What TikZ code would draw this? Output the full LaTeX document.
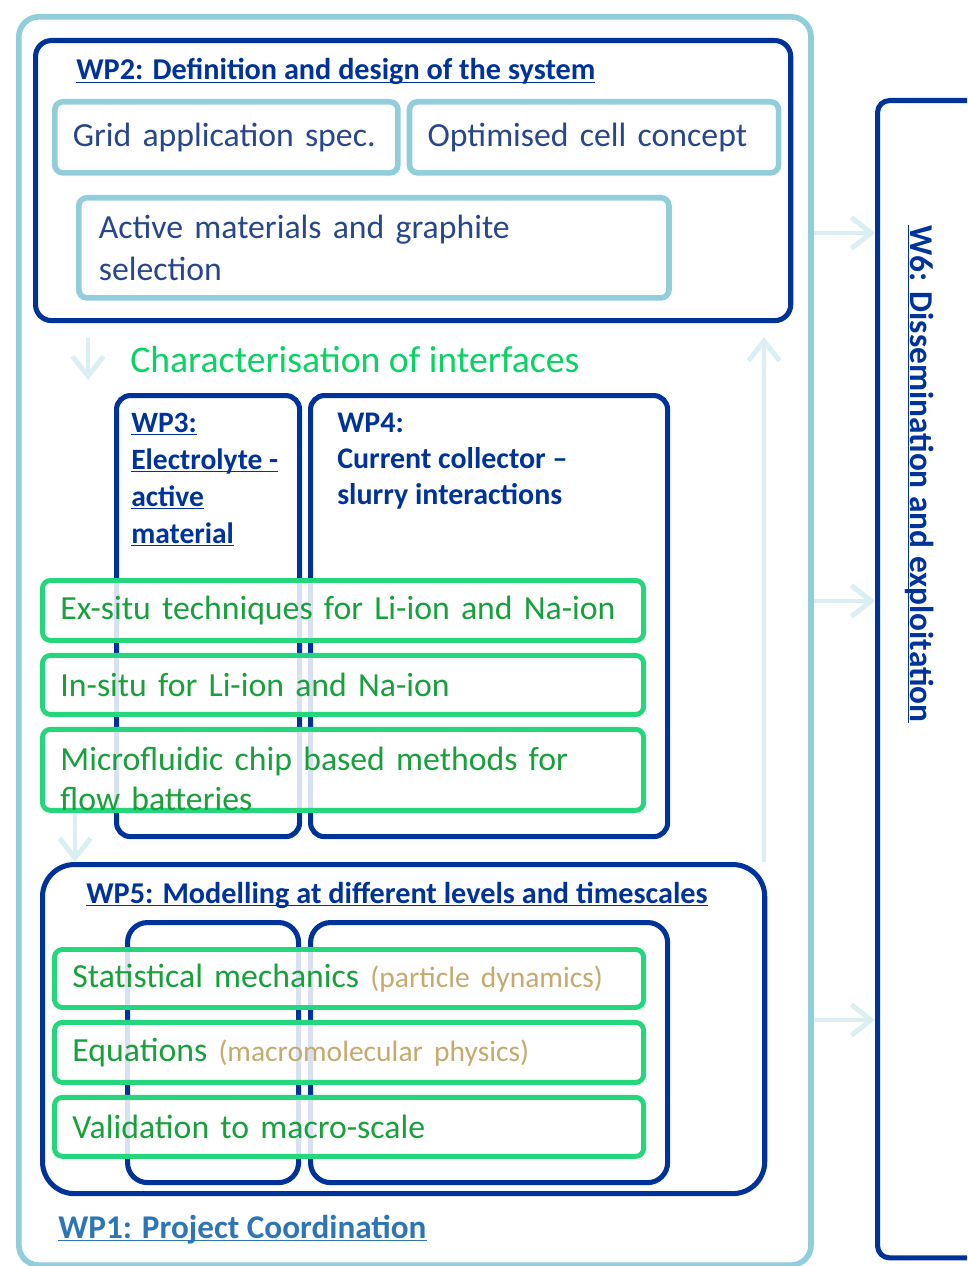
\documentclass[tikz,border=0pt]{standalone}
\usepackage{fontspec}
\setmainfont{Carlito}
\usetikzlibrary{arrows.meta}
\usetikzlibrary{positioning}

\definecolor{wpnavy}{RGB}{0,51,153}
\definecolor{wplight}{RGB}{146,205,220}
\definecolor{wpgreen}{RGB}{38,214,124}
\definecolor{txtgreen}{RGB}{25,160,60}
\definecolor{chargreen}{RGB}{10,210,100}
\definecolor{detail}{RGB}{196,170,110}
\definecolor{palearrow}{RGB}{218,238,243}
\definecolor{slate}{RGB}{40,70,140}
\definecolor{wpone}{RGB}{46,117,182}
\newcommand{\ulbox}[1]{\underline{\raisebox{0pt}[\height][0pt]{#1}}}

\begin{document}
\begin{tikzpicture}[x=0.025cm,y=-0.025cm,
  frame/.style={draw=wplight,line width=4pt,rounded corners=0.5cm,anchor=north west,inner sep=0pt},
  wpbox/.style={draw=wpnavy,line width=3.6pt,anchor=north west,inner sep=0pt},
  spec/.style={draw=wplight,line width=4pt,rounded corners=0.2cm,anchor=north west,align=left,inner xsep=0.45cm,font=\fontsize{24}{30}\selectfont,text=slate},
  method/.style={draw=wpgreen,line width=3.5pt,rounded corners=0.2cm,fill=white,fill opacity=0.85,text opacity=1,align=left,inner xsep=0.45cm,font=\fontsize{24}{28.5}\selectfont,text=txtgreen},
  title/.style={anchor=base west,inner sep=0pt,font=\bfseries\fontsize{21.5}{26}\selectfont,text=wpnavy},
  flow/.style={draw=palearrow,line width=3.5pt,-{Straight Barb[length=14pt,width=22pt]}}]
  \clip (0,0) rectangle (967,1266);

  % WP1 frame round everything
  \node[frame,minimum width=19.8cm,minimum height=31.2cm] (wp1) at (16,14) {};
  \node[title,text=wpone,font=\bfseries\fontsize{23.6}{28}\selectfont] (wp1title) at (58,1238) {\ulbox{WP1: Project Coordination}};

  % WP2
  \node[wpbox,rounded corners=0.4cm,minimum width=18.875cm,minimum height=7cm] (wp2) at (33,38) {};
  \node[title] (wp2title) at (76,80) {\ulbox{WP2: Definition and design of the system}};
  \node[spec,text width=7.675cm,minimum height=1.775cm] (grid) at (52,99) {Grid application spec.};
  \node[spec,text width=8.325cm,minimum height=1.775cm,right=0.15cm of grid] (cell) {Optimised cell concept};
  \node[spec,inner xsep=0.5cm,text width=13.75cm,minimum height=2.5cm] (active) at (76,195) {Active materials and graphite\\selection};

  \node[anchor=base west,inner sep=0pt,font=\fontsize{26.8}{31}\selectfont,text=chargreen] (charint) at (130,372) {Characterisation of interfaces};

  % WP3 and WP4
  \node[wpbox,rounded corners=0.35cm,minimum width=4.575cm,minimum height=11.025cm] (wp3) at (114,393) {};
  \node[wpbox,rounded corners=0.35cm,minimum width=8.925cm,minimum height=11.025cm] (wp4) at (308,393) {};
  \node[anchor=north west,inner sep=0pt,align=left,font=\bfseries\fontsize{21}{26.3}\selectfont,text=wpnavy] (wp3text) at (131,413) {\ulbox{WP3:}\\\ulbox{Electrolyte -}\\\ulbox{active}\\\ulbox{material}};
  \node[anchor=north west,inner sep=0pt,align=left,font=\bfseries\fontsize{21.3}{25.5}\selectfont,text=wpnavy] (wp4text) at (337,413) {WP4:\\Current collector --\\slurry interactions};

  \node[method,anchor=north west,text width=14.125cm,minimum height=1.5cm] (exsitu) at (40,578) {Ex-situ techniques for Li-ion and Na-ion};
  \node[method,text width=14.125cm,minimum height=1.475cm,below=0.25cm of exsitu] (insitu) {In-situ for Li-ion and Na-ion};
  \node[method,text width=14.125cm,minimum height=2.025cm,text depth=16pt,below=0.25cm of insitu] (micro) {Microfluidic chip based methods for\\flow batteries};

  % WP5
  \node[wpbox,rounded corners=0.8cm,minimum width=18.05cm,minimum height=8.225cm] (wp5) at (40,862) {};
  \node[title] (wp5title) at (86,903) {\ulbox{WP5: Modelling at different levels and timescales}};
  \node[wpbox,rounded corners=0.5cm,minimum width=4.275cm,minimum height=6.5cm] (wp5l) at (125,920) {};
  \node[wpbox,rounded corners=0.5cm,minimum width=8.925cm,minimum height=6.5cm] (wp5r) at (308,920) {};
  \node[method,anchor=north west,text width=13.825cm,minimum height=1.45cm] (stat) at (52,947) {Statistical mechanics {\color{detail}\fontsize{21}{24}\selectfont(particle dynamics)}};
  \node[method,text width=13.825cm,minimum height=1.5cm,below=0.25cm of stat] (eq) {Equations {\color{detail}\fontsize{21}{24}\selectfont(macromolecular physics)}};
  \node[method,text width=13.825cm,minimum height=1.475cm,below=0.25cm of eq] (valid) {Validation to macro-scale};

  % W6
  \node[wpbox,rounded corners=0.3cm,minimum width=3.375cm,minimum height=28.925cm] (w6) at (875,98) {};
  \node[rotate=-90,anchor=west,inner sep=0pt,font=\bfseries\fontsize{23.7}{28}\selectfont,text=wpnavy] (w6text) at (921,225) {\ulbox{W6: Dissemination and exploitation}};

  % arrows
  \coordinate (dnone) at (88,380);
  \coordinate (dntwo) at (75,0);
  \coordinate (upx) at (764,0);
  \coordinate (outa) at (840,233);
  \coordinate (outb) at (840,601);
  \coordinate (outc) at (840,1020);
  \draw[flow,shorten <=0.375cm] (wp2.south -| dnone) -- (dnone);
  \draw[flow] (micro.south -| dntwo) -- (wp5.north -| dntwo);
  \draw[flow,shorten >=0.35cm] (wp5.north -| upx) -- (wp2.south -| upx);
  \draw[flow] (wp1.east |- outa) -- (w6.west |- outa);
  \draw[flow] (wp1.east |- outb) -- (w6.west |- outb);
  \draw[flow] (wp1.east |- outc) -- (w6.west |- outc);
\end{tikzpicture}
\end{document}
